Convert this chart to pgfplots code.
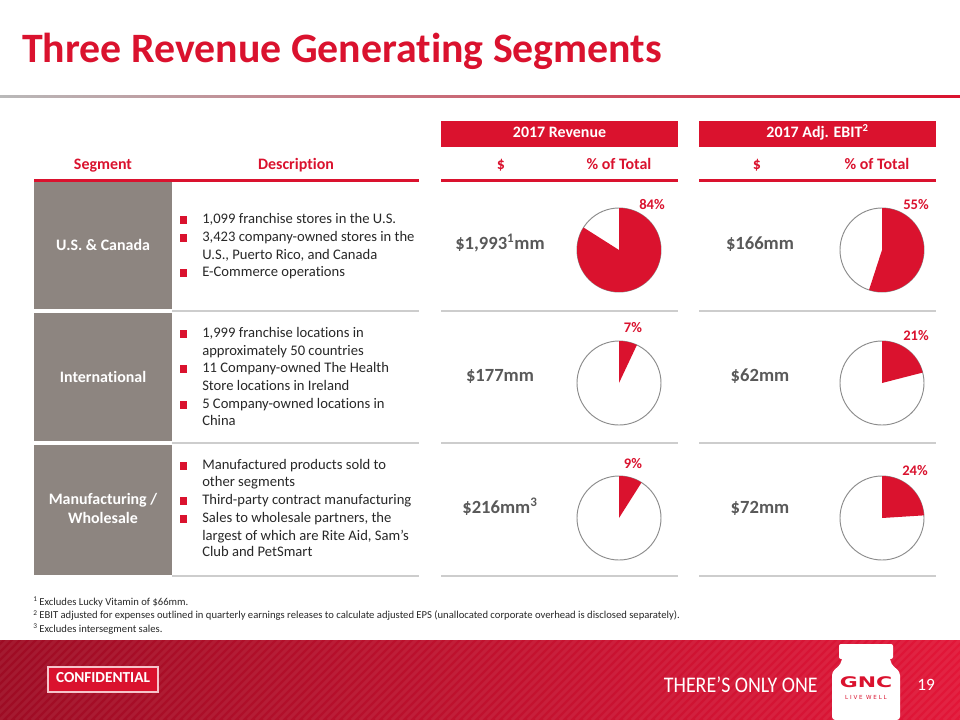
\documentclass[border=0pt]{standalone}
\usepackage{pgfplots}
\pgfplotsset{compat=1.18}
\usepackage{fontspec}
\setmainfont{Carlito}[Ligatures=NoCommon]
\newfontfamily\logofont{DejaVu Sans}

\definecolor{gncred}{RGB}{218,18,46}
\definecolor{boxgray}{RGB}{141,133,128}
\definecolor{valgray}{RGB}{89,89,89}
\definecolor{txt}{RGB}{40,40,40}
\definecolor{rulegray}{RGB}{205,205,205}
\definecolor{piegray}{RGB}{140,140,140}
\definecolor{bannerL}{RGB}{158,12,36}
\definecolor{bannerR}{RGB}{226,22,56}

\tikzset{
  desc/.style={anchor=mid west, inner sep=0pt, text=txt, font=\fontsize{11}{13}\selectfont},
  head/.style={anchor=mid, inner sep=0pt, text=gncred, font=\fontsize{12}{14}\selectfont\bfseries},
  seg/.style={anchor=mid, inner sep=0pt, text=white, font=\fontsize{12}{14}\selectfont\bfseries},
  val/.style={anchor=mid, inner sep=0pt, text=valgray, font=\fontsize{14}{16}\selectfont\bfseries},
  pct/.style={anchor=mid, inner sep=0pt, text=gncred, font=\fontsize{11}{13}\selectfont\bfseries},
  note/.style={anchor=mid west, inner sep=0pt, text=txt, font=\fontsize{8}{9}\selectfont},
}

% bullet square at a line centre
\newcommand\bul[1]{\node[fill=gncred, minimum size=5.4bp, inner sep=0pt] at (axis cs:183.5,#1) {};}
% pie: centre x, centre y, share in percent
\newcommand\pie[3]{%
  \fill[white] (axis cs:#1,#2) circle[radius=31.5bp];
  \draw[piegray, line width=0.7bp] (axis cs:#1,#2) circle[radius=31.5bp];
  \fill[gncred] (axis cs:#1,#2) -- ++(90:31.5bp) arc[start angle=90, delta angle=-3.6*#3, radius=31.5bp] -- cycle;
}

\begin{document}
\begin{tikzpicture}
\begin{axis}[
    x=0.75bp, y=0.75bp,
    xmin=0, xmax=960, ymin=0, ymax=720,
    y dir=reverse,
    hide axis, clip=false,
]
% page
\fill[white] (axis cs:0,0) rectangle (axis cs:960,720);

% title
\node[anchor=base west, inner sep=0pt, text=gncred, font=\fontsize{31.5}{34}\selectfont\bfseries]
  at (axis cs:22,62) {Three Revenue Generating Segments};
\shade[left color=gray!55, right color=gncred] (axis cs:0,95.5) rectangle (axis cs:960,97.5);

% group headers
\fill[gncred] (axis cs:441,121) rectangle (axis cs:678,147);
\fill[gncred] (axis cs:699,121) rectangle (axis cs:936,147);
\node[seg] at (axis cs:559.5,134) {2017 Revenue};
\node[seg] at (axis cs:817.5,134) {2017 Adj. EBIT\textsuperscript{2}};

% column headers
\node[head] at (axis cs:103,166) {Segment};
\node[head] at (axis cs:296,166) {Description};
\node[head] at (axis cs:501,166) {\$};
\node[head] at (axis cs:619,166) {\% of Total};
\node[head] at (axis cs:757,166) {\$};
\node[head] at (axis cs:877,166) {\% of Total};
\fill[gncred] (axis cs:34,178.5) rectangle (axis cs:419,181.5);
\fill[gncred] (axis cs:441,178.5) rectangle (axis cs:678,181.5);
\fill[gncred] (axis cs:699,178.5) rectangle (axis cs:936,181.5);

% segment boxes
\fill[boxgray] (axis cs:34,182) rectangle (axis cs:172,309);
\fill[boxgray] (axis cs:34,313) rectangle (axis cs:172,441);
\fill[boxgray] (axis cs:34,445) rectangle (axis cs:172,575);
\node[seg] at (axis cs:103,247) {U.S. \& Canada};
\node[seg] at (axis cs:103,379) {International};
\node[seg] at (axis cs:103,501) {Manufacturing /};
\node[seg] at (axis cs:103,520) {Wholesale};

% row rules
\draw[rulegray, line width=1.2bp] (axis cs:172,311) -- (axis cs:419,311);
\draw[rulegray, line width=1.2bp] (axis cs:441,311) -- (axis cs:678,311);
\draw[rulegray, line width=1.2bp] (axis cs:699,311) -- (axis cs:936,311);
\draw[rulegray, line width=1.2bp] (axis cs:172,443) -- (axis cs:419,443);
\draw[rulegray, line width=1.2bp] (axis cs:441,443) -- (axis cs:678,443);
\draw[rulegray, line width=1.2bp] (axis cs:699,443) -- (axis cs:936,443);
\draw[rulegray, line width=1.2bp] (axis cs:172,576) -- (axis cs:419,576);
\draw[rulegray, line width=1.2bp] (axis cs:441,576) -- (axis cs:678,576);
\draw[rulegray, line width=1.2bp] (axis cs:699,576) -- (axis cs:936,576);

% descriptions
\bul{220} \node[desc] at (axis cs:202,220) {1,099 franchise stores in the U.S.};
\bul{238} \node[desc] at (axis cs:202,238) {3,423 company-owned stores in the};
          \node[desc] at (axis cs:202,256) {U.S., Puerto Rico, and Canada};
\bul{273} \node[desc] at (axis cs:202,273) {E-Commerce operations};

\bul{334} \node[desc] at (axis cs:202,334) {1,999 franchise locations in};
          \node[desc] at (axis cs:202,352) {approximately 50 countries};
\bul{369} \node[desc] at (axis cs:202,369) {11 Company-owned The Health};
          \node[desc] at (axis cs:202,387) {Store locations in Ireland};
\bul{405} \node[desc] at (axis cs:202,405) {5 Company-owned locations in};
          \node[desc] at (axis cs:202,422) {China};

\bul{466} \node[desc] at (axis cs:202,466) {Manufactured products sold to};
          \node[desc] at (axis cs:202,483) {other segments};
\bul{501} \node[desc] at (axis cs:202,501) {Third-party contract manufacturing};
\bul{519} \node[desc] at (axis cs:202,519) {Sales to wholesale partners, the};
          \node[desc] at (axis cs:202,537) {largest of which are Rite Aid, Sam’s};
          \node[desc] at (axis cs:202,553) {Club and PetSmart};

% values
\node[val] at (axis cs:500,246) {\$1,993\textsuperscript{1}mm};
\node[val] at (axis cs:500,378) {\$177mm};
\node[val] at (axis cs:500,510) {\$216mm\textsuperscript{3}};
\node[val] at (axis cs:760,246) {\$166mm};
\node[val] at (axis cs:760,378) {\$62mm};
\node[val] at (axis cs:760,510) {\$72mm};

% pies: revenue share and adj. EBIT share
\pie{619}{250}{84}
\pie{619}{383}{7}
\pie{619}{518}{9}
\pie{882}{250}{55}
\pie{882}{383}{21}
\pie{882}{518}{24}
\node[pct] at (axis cs:652,206) {84\%};
\node[pct] at (axis cs:633,329) {7\%};
\node[pct] at (axis cs:633,465) {9\%};
\node[pct] at (axis cs:916,206) {55\%};
\node[pct] at (axis cs:916,337) {21\%};
\node[pct] at (axis cs:915,472) {24\%};

% footnotes
\node[note] at (axis cs:33,602) {{\fontsize{5.5}{6}\selectfont\raisebox{2.5bp}{1}} Excludes Lucky Vitamin of \$66mm.};
\node[note] at (axis cs:33,615.5) {{\fontsize{5.5}{6}\selectfont\raisebox{2.5bp}{2}} EBIT adjusted for expenses outlined in quarterly earnings releases to calculate adjusted EPS (unallocated corporate overhead is disclosed separately).};
\node[note] at (axis cs:33,629) {{\fontsize{5.5}{6}\selectfont\raisebox{2.5bp}{3}} Excludes intersegment sales.};

% banner
\shade[left color=bannerL, right color=bannerR] (axis cs:0,640) rectangle (axis cs:960,720);
\begin{scope}
  \clip (axis cs:0,640) rectangle (axis cs:960,720);
  \pgfplotsinvokeforeach{-80,-72,...,960}{
    \draw[white, opacity=0.06, line width=2.2bp] (axis cs:#1,720) -- ++(62bp,62bp);
  }
\end{scope}
\draw[fill=gncred, draw=white!75!gncred, line width=1.2bp] (axis cs:48,667) rectangle (axis cs:158,692);
\node[anchor=mid, inner sep=0pt, text=white, font=\fontsize{11.5}{13}\selectfont\bfseries] at (axis cs:103,679.5) {CONFIDENTIAL};
\node[anchor=mid east, inner sep=0pt, text=white, font=\fontsize{15}{17}\selectfont] at (axis cs:818,689) {\scalebox{1}[1.12]{THERE’S ONLY ONE}};
\node[anchor=mid, inner sep=0pt, text=white, font=\fontsize{13}{15}\selectfont] at (axis cs:926,687) {19};

% bottle
\fill[white, rounded corners=1.5bp] (axis cs:839,659) -- (axis cs:839,644) -- (axis cs:893,644) -- (axis cs:893,659) -- cycle;
\fill[white, rounded corners=2.5bp] (axis cs:842,657) -- (axis cs:890,657) -- (axis cs:891,664) -- (axis cs:900,672) -- (axis cs:900,720) -- (axis cs:832,720) -- (axis cs:832,672) -- (axis cs:841,664) -- cycle;
\node[anchor=mid, inner sep=0pt, text=gncred] at (axis cs:866,684) {\scalebox{1.5}[1]{\logofont\bfseries\fontsize{11}{12}\selectfont GNC}};
\node[anchor=mid, inner sep=0pt, text=gncred, font=\logofont\fontsize{4.2}{5}\selectfont] at (axis cs:866,696) {L I V E\ \ W E L L};
\end{axis}
\end{tikzpicture}
\end{document}
